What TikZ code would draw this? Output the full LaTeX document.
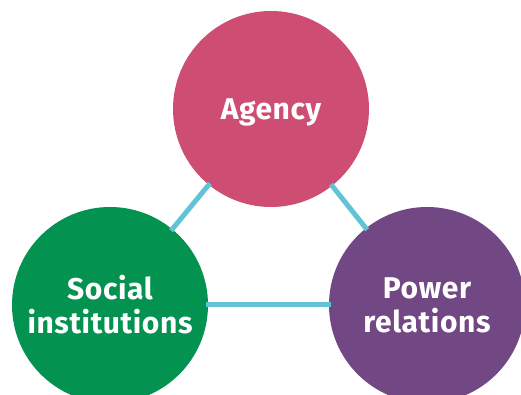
\documentclass[tikz,border=0pt]{standalone}
\usepackage{fontspec}
\setmainfont{Fira Sans}[LetterSpace=2]
\usetikzlibrary{positioning}

\definecolor{agencyred}{HTML}{CD4E72}
\definecolor{socialgreen}{HTML}{03924F}
\definecolor{powerpurple}{HTML}{714784}
\definecolor{linkcyan}{HTML}{63C3D6}

\begin{document}
\begin{tikzpicture}[
x=1pt, y=1pt,
circ/.style={circle, minimum size=196pt, inner sep=0pt, align=center, text=white, font=\fontsize{30}{34}\selectfont\bfseries},
link/.style={draw=linkcyan, line width=5pt, shorten <=-2pt, shorten >=-2pt}
]
\useasboundingbox (0,0) rectangle (521,395);
\node[circ, fill=agencyred, text depth=0pt] (agency) at (271,286) {Agency};
\node[circ, fill=socialgreen] (social) at (110,90) {Social\\institutions};
\node[circ, fill=powerpurple] (power) at (427,90) {Power\\relations};
\draw[link] (agency) -- (social);
\draw[link] (agency) -- (power);
\draw[link] (social) -- (power);
\end{tikzpicture}
\end{document}
